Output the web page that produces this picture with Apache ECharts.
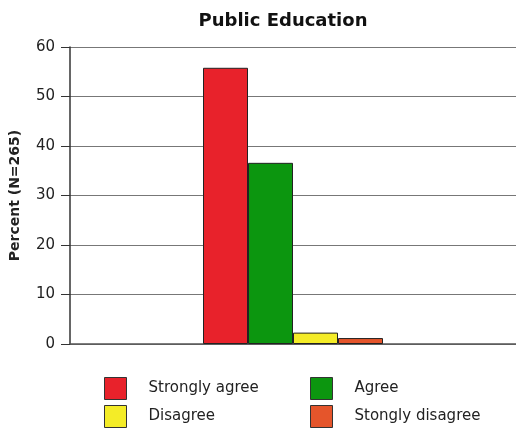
<!DOCTYPE html>
<html>
<head>
<meta charset="utf-8">
<script src="https://cdn.jsdelivr.net/npm/echarts@6/dist/echarts.min.js"></script>
<style>
  html, body { margin: 0; padding: 0; background: #fff; }
  #chart { width: 516px; height: 430px; }
</style>
</head>
<body>
<div id="chart"></div>
<script>
// Survey responses on public education, percent of respondents (N=265)
const categories = ['Public Education'];
const responseNames = ['Strongly agree', 'Agree', 'Disagree', 'Stongly disagree'];
const responseValues = [55.8, 36.6, 2.3, 1.2];
const responseColors = ['#e8222b', '#0c960f', '#f4ec27', '#e5552b'];
const yTicks = { min: 0, max: 60, interval: 10 };

const font = 'DejaVu Sans';

const series = responseNames.map((name, i) => ({
  name: name,
  type: 'bar',
  data: [responseValues[i]],
  barWidth: 45,
  barGap: '0%',
  itemStyle: { color: responseColors[i], borderColor: '#222', borderWidth: 1 }
}));

function legendColumn(names, left) {
  return {
    data: names,
    orient: 'vertical',
    left: left, top: 372, height: 60, width: 200,
    icon: 'rect',
    itemWidth: 22, itemHeight: 22, itemGap: 5,
    textStyle: { fontFamily: font, fontSize: 15, color: '#222', padding: [0, 0, 0, 17] },
    itemStyle: { borderColor: '#333', borderWidth: 1 }
  };
}

const chart = echarts.init(document.getElementById('chart'), null, { renderer: 'canvas' });
chart.setOption({
  animation: false,
  backgroundColor: '#ffffff',
  title: {
    text: 'Public Education',
    left: 278,
    textAlign: 'center',
    top: 7,
    textStyle: { fontFamily: 'DejaVu Sans', fontWeight: 'bold', fontSize: 18, color: '#111' }
  },
  grid: { left: 69, right: 0, top: 47, bottom: 86 },
  legend: [
    legendColumn([responseNames[0], responseNames[2]], 99),
    legendColumn([responseNames[1], responseNames[3]], 305)
  ],
  xAxis: {
    type: 'category',
    data: categories,
    axisLine: { show: true, lineStyle: { color: '#555', width: 1.5 } },
    axisTick: { show: false },
    axisLabel: { show: false }
  },
  yAxis: {
    type: 'value',
    min: yTicks.min, max: yTicks.max, interval: yTicks.interval,
    name: 'Percent (N=265)',
    nameLocation: 'middle',
    nameGap: 48,
    nameTextStyle: { fontFamily: font, fontSize: 14, fontWeight: 'bold', color: '#222' },
    axisLine: { show: true, lineStyle: { color: '#333', width: 1.5 } },
    axisTick: { show: true, length: 9, lineStyle: { color: '#333' } },
    axisLabel: { fontFamily: font, fontSize: 15, color: '#222', margin: 15 },
    splitLine: { show: true, lineStyle: { color: '#777', width: 1.2 } }
  },
  series: series
});
</script>
</body>
</html>
